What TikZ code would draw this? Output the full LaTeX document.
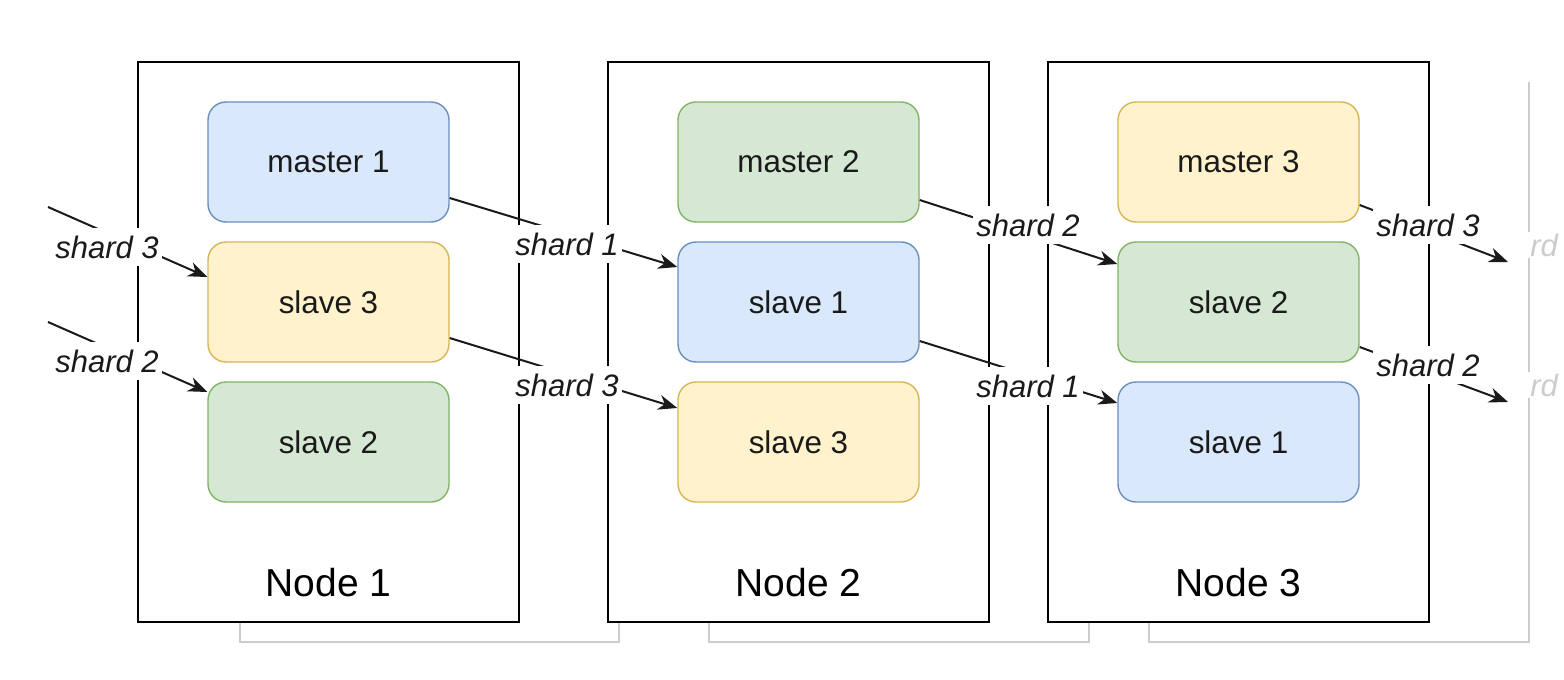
\documentclass[tikz,border=0pt]{standalone}
\usepackage{fontspec}
\setmainfont{Liberation Sans}
\usetikzlibrary{arrows.meta,calc}
\definecolor{bluefill}{HTML}{DAE8FC}
\definecolor{bluedraw}{HTML}{6C8EBF}
\definecolor{greenfill}{HTML}{D5E8D4}
\definecolor{greendraw}{HTML}{82B366}
\definecolor{yellowfill}{HTML}{FFF2CC}
\definecolor{yellowdraw}{HTML}{D6B656}
\definecolor{ghost}{HTML}{CCCCCC}
\definecolor{ink}{HTML}{1A1A1A}
\begin{document}
\begin{tikzpicture}[x=0.5pt,y=-0.5pt,
  hostbox/.style={draw=black, line width=1pt, fill=white, minimum width=190.5pt, minimum height=280pt, inner sep=0pt},
  ghostline/.style={draw=ghost, line width=0.7pt},
  card/.style={rounded corners=9pt, line width=0.7pt, minimum width=120.5pt, minimum height=60pt, inner sep=0pt, text=ink, font=\fontsize{15.7}{18}\selectfont},
  bluecard/.style={card, draw=bluedraw, fill=bluefill},
  greencard/.style={card, draw=greendraw, fill=greenfill},
  yellowcard/.style={card, draw=yellowdraw, fill=yellowfill},
  hostlabel/.style={font=\fontsize{19.5}{22}\selectfont, text=black, inner sep=0pt},
  link/.style={draw=ink, line width=1pt, -{Stealth[length=9.5pt,width=7.5pt,inset=3pt]}},
  shardlabel/.style={fill=white, inner sep=1.5pt, minimum height=19pt, text=ink, font=\fontsize{15.5}{18}\selectfont\itshape},
  ghosttext/.style={text=ghost, fill=white, inner sep=1pt, font=\fontsize{15.5}{18}\selectfont\itshape}
]
\useasboundingbox (0,0) rectangle (1564,680);

% ghost frames behind (only partly visible)
\draw[ghostline] (240,622) -- (240,642) -- (619,642) -- (619,622);
\draw[ghostline] (709,622) -- (709,642) -- (1089,642) -- (1089,622);
\draw[ghostline] (1149,622) -- (1149,642) -- (1529,642) -- (1529,82);
\node[ghosttext, anchor=west] (gt1) at (1528,245) {rd};
\node[ghosttext, anchor=west] (gt2) at (1528,385) {rd};

% host boxes
\node[hostbox] (n1) at (328.5,342) {};
\node[hostbox] (n2) at (798.5,342) {};
\node[hostbox] (n3) at (1238.5,342) {};
\node[hostlabel] (n1l) at (328.5,583) {Node 1};
\node[hostlabel] (n2l) at (798.5,583) {Node 2};
\node[hostlabel] (n3l) at (1238.5,583) {Node 3};

% shard cards
\node[bluecard]   (m1)  at (328.5,162) {master 1};
\node[yellowcard] (s3a) at (328.5,302) {slave 3};
\node[greencard]  (s2a) at (328.5,442) {slave 2};

\node[greencard]  (m2)  at (798.5,162) {master 2};
\node[bluecard]   (s1b) at (798.5,302) {slave 1};
\node[yellowcard] (s3b) at (798.5,442) {slave 3};

\node[yellowcard] (m3)  at (1238.5,162) {master 3};
\node[greencard]  (s2c) at (1238.5,302) {slave 2};
\node[bluecard]   (s1c) at (1238.5,442) {slave 1};

% free ends
\coordinate (inA) at (48,207);
\coordinate (inB) at (48,322);
\coordinate (outA) at (1508,262);
\coordinate (outB) at (1508,402);

% connectors
\draw[link] (inA) -- ($(s3a.west)+(0,-25)$);
\draw[link] (inB) -- ($(s2a.west)+(0,-50)$);
\draw[link] ($(m1.east)+(0,36)$) -- ($(s1b.west)+(0,-35)$);
\draw[link] ($(s3a.east)+(0,36)$) -- ($(s3b.west)+(0,-34)$);
\draw[link] ($(m2.east)+(0,38)$) -- ($(s2c.west)+(0,-38)$);
\draw[link] ($(s1b.east)+(0,39)$) -- ($(s1c.west)+(0,-39)$);
\draw[link] ($(m3.east)+(0,43)$) -- (outA);
\draw[link] ($(s2c.east)+(0,45)$) -- (outB);

% labels
\node[shardlabel] (l1) at (107,247) {shard 3};
\node[shardlabel] (l2) at (107,361) {shard 2};
\node[shardlabel] (l3) at (567,244) {shard 1};
\node[shardlabel] (l4) at (567,385) {shard 3};
\node[shardlabel] (l5) at (1028,225) {shard 2};
\node[shardlabel] (l6) at (1028,386) {shard 1};
\node[shardlabel] (l7) at (1428,225) {shard 3};
\node[shardlabel] (l8) at (1428,365) {shard 2};
\end{tikzpicture}
\end{document}
